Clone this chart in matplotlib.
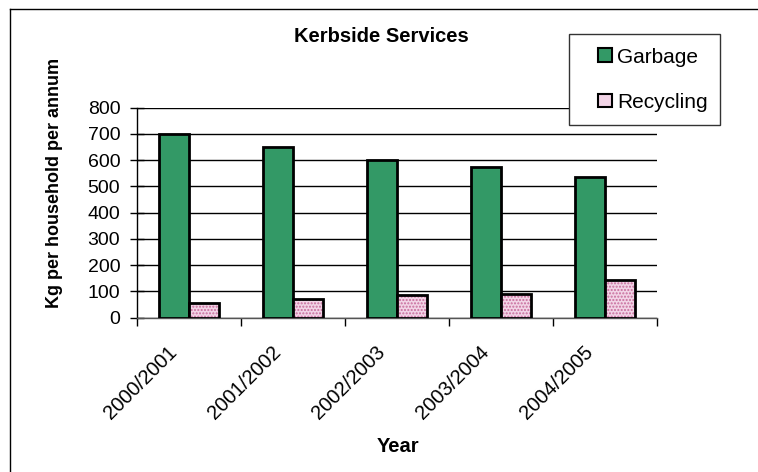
import numpy as np
import matplotlib.pyplot as plt
import matplotlib.transforms as mtransforms
from matplotlib.patches import Rectangle
from matplotlib.legend_handler import HandlerPatch

# Datos
anios = ["2000/2001", "2001/2002", "2002/2003", "2003/2004", "2004/2005"]
basura = [700, 652, 600, 573, 534]
reciclaje = [57, 71, 86, 91, 143]

plt.rcParams['font.family'] = ['Liberation Sans', 'DejaVu Sans']
plt.rcParams['font.size'] = 14

fig = plt.figure(figsize=(7.58, 4.72), dpi=100)
ax = fig.add_axes([137/758, 1 - 317.5/472, 520/758, 209.8/472])

x = np.arange(len(anios))
w = 0.29
verde = '#339966'
rosa_fondo = '#f2d4e6'
rosa_punto = '#c86c9c'

ax.bar(x - w/2, basura, w, color=verde, edgecolor='black', linewidth=2, zorder=3)
ax.bar(x + w/2, reciclaje, w, color=rosa_fondo, edgecolor=rosa_punto, hatch='.....', linewidth=0, zorder=3)
ax.bar(x + w/2, reciclaje, w, fill=False, edgecolor='black', linewidth=2, zorder=4)

ax.set_xlim(-0.5, len(anios) - 0.5)
ax.set_ylim(0, 800)
ax.set_yticks(np.arange(0, 801, 100))
ax.yaxis.grid(True, color='black', linewidth=1)
ax.set_axisbelow(True)
ax.tick_params(axis='y', direction='inout', length=10, width=1, pad=7, labelsize=14)

ax.set_xticks(np.arange(-0.5, len(anios), 1))
ax.set_xticklabels([])
ax.tick_params(axis='x', which='major', direction='out', length=6, width=1)
ax.set_xticks(x, minor=True)
ax.set_xticklabels(anios, minor=True, rotation=45, ha='right', va='center',
                   rotation_mode='anchor', fontsize=14.5)
ax.tick_params(axis='x', which='minor', length=0, pad=23)
desplaza = mtransforms.ScaledTranslation(-15/100, 0, fig.dpi_scale_trans)
for etiqueta in ax.get_xticklabels(minor=True):
    etiqueta.set_transform(etiqueta.get_transform() + desplaza)

for lado in ['top', 'right']:
    ax.spines[lado].set_visible(False)
ax.spines['left'].set_linewidth(1)
ax.spines['bottom'].set_linewidth(1)
ax.spines['bottom'].set_color('#555555')


# Cuadrado de la leyenda alineado a la derecha del hueco
def cuadrado(legend, orig_handle, xdescent, ydescent, width, height, fontsize):
    lado = 13.5 * 72 / 100
    return Rectangle((-xdescent + width - lado, -ydescent + (height - lado) / 2), lado, lado)


h1 = Rectangle((0, 0), 1, 1, facecolor=verde, edgecolor='black', linewidth=1.5)
h2 = Rectangle((0, 0), 1, 1, facecolor=rosa_fondo, edgecolor='black', linewidth=1.5)
leg = fig.legend([h1, h2], ["Garbage", "Recycling"], loc='upper left',
                 bbox_to_anchor=(569/758, 1 - 128/472, 151/758, 94/472), mode='expand',
                 borderpad=0.65, fontsize=15,
                 labelspacing=1.25, handlelength=1.39, handleheight=0.65,
                 handletextpad=0.26, borderaxespad=0, fancybox=False,
                 edgecolor='#333333', framealpha=1,
                 handler_map={Rectangle: HandlerPatch(patch_func=cuadrado)})
leg.get_frame().set_linewidth(1)

fig.text(381/758, 1 - 37/472, "Kerbside Services", ha='center', va='center',
         fontweight='bold', fontsize=14.5)
fig.text(55/758, 1 - 183/472, "Kg per household per annum", ha='center', va='center',
         rotation=90, fontweight='bold', fontsize=13)
fig.text(398/758, 1 - 447/472, "Year", ha='center', va='center',
         fontweight='bold', fontsize=14.5)

# Marco del gráfico
fig.add_artist(plt.Line2D([10/758, 10/758], [0, 1 - 9/472], color='black', linewidth=1))
fig.add_artist(plt.Line2D([10/758, 1], [1 - 9/472, 1 - 9/472], color='black', linewidth=1))

plt.savefig("out.png", dpi=100)
